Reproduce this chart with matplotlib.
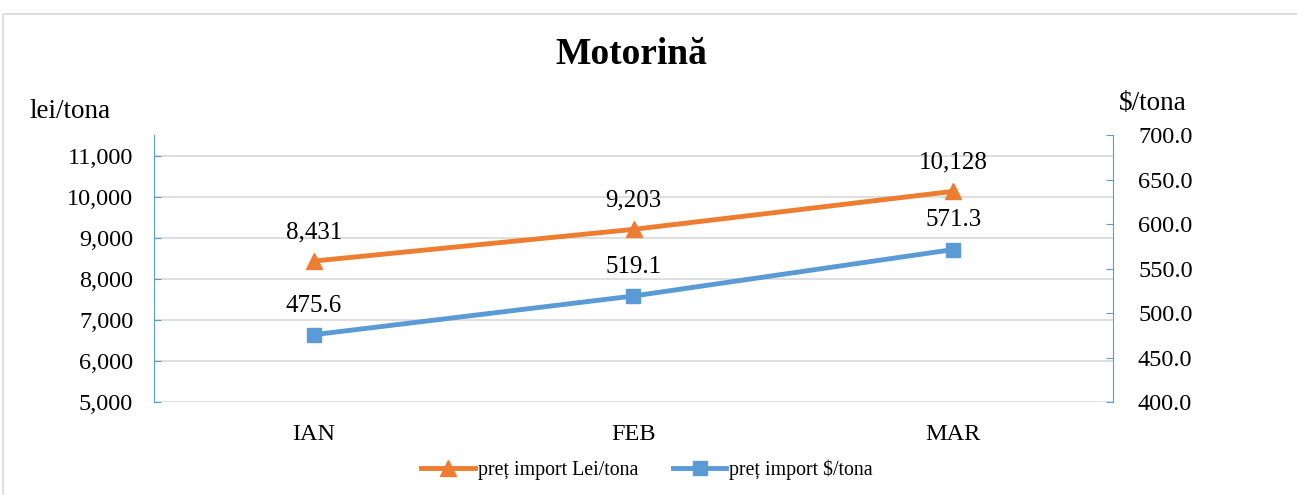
import matplotlib.pyplot as plt
from matplotlib.patches import Rectangle
from matplotlib.ticker import FuncFormatter, FixedLocator

months = ["IAN", "FEB", "MAR"]
pret_lei = [8431, 9203, 10128]
pret_usd = [475.6, 519.1, 571.3]

orange = "#ED7D31"
blue = "#5B9BD5"
plt.rcParams["font.family"] = ["Liberation Serif", "DejaVu Serif"]

W, H = 1297, 495
fig = plt.figure(figsize=(W / 100, H / 100), dpi=100)

# chart frame
fig.patches.append(Rectangle((3 / W, -0.05), 1.1, 1 - 14 / H + 0.05, transform=fig.transFigure,
                             fill=False, edgecolor="#D9D9D9", linewidth=1.2))

ax = fig.add_axes([154 / W, 1 - 402 / H, (1113 - 154) / W, (402 - 135) / H])
ax2 = ax.twinx()
x = list(range(len(months)))

ax.set_xlim(-0.5, 2.5)
ax.set_ylim(5000, 11500)
ax2.set_ylim(400, 700)

ax.yaxis.set_major_locator(FixedLocator(range(5000, 11001, 1000)))
ax.yaxis.set_major_formatter(FuncFormatter(lambda v, p: f"{v:,.0f}"))
ax2.yaxis.set_major_locator(FixedLocator(range(400, 701, 50)))
ax2.yaxis.set_major_formatter(FuncFormatter(lambda v, p: f"{v:.1f}"))
ax.grid(axis="y", color="#D9D9D9", linewidth=1.2)
ax.set_axisbelow(True)

l1, = ax.plot(x, pret_lei, color=orange, lw=3.5, marker="^", ms=11, label="preț import Lei/tona", zorder=3)
l2, = ax2.plot(x, pret_usd, color=blue, lw=3.5, marker="s", ms=10, label="preț import $/tona", zorder=3)

for xi, v in zip(x, pret_lei):
    ax.annotate(f"{v:,}", (xi, v), xytext=(0, 13), textcoords="offset points", ha="center", va="bottom", fontsize=18)
for xi, v in zip(x, pret_usd):
    ax2.annotate(f"{v:.1f}", (xi, v), xytext=(0, 13), textcoords="offset points", ha="center", va="bottom", fontsize=18)

ax.set_xticks(x)
ax.set_xticklabels(months)
ax.tick_params(axis="x", length=0, labelsize=17.5, pad=16)
ax.tick_params(axis="y", direction="in", length=5, color=blue, labelsize=17.5, pad=15)
ax2.tick_params(axis="y", direction="in", length=5, color=blue, labelsize=17.5, pad=18)

for a in (ax, ax2):
    a.spines["top"].set_visible(False)
    a.spines["bottom"].set_visible(False)
    a.spines["left"].set_color(blue)
    a.spines["right"].set_color(blue)
ax.spines["right"].set_visible(False)
ax2.spines["left"].set_visible(False)

fig.text(631 / W, 1 - 55 / H, "Motorină", ha="center", va="center", fontsize=27, fontweight="bold")
fig.text(29 / W, 1 - 112 / H, "lei/tona", ha="left", va="center", fontsize=19.5)
fig.text(1119 / W, 1 - 103 / H, "$/tona", ha="left", va="center", fontsize=19.5)

fig.legend(handles=[l1, l2], loc="center", bbox_to_anchor=(647 / W, 1 - 470 / H), ncol=2,
           frameon=False, fontsize=14.3, handlelength=2.7, columnspacing=1.75, handletextpad=0.15)

fig.savefig("out.png", dpi=100)
